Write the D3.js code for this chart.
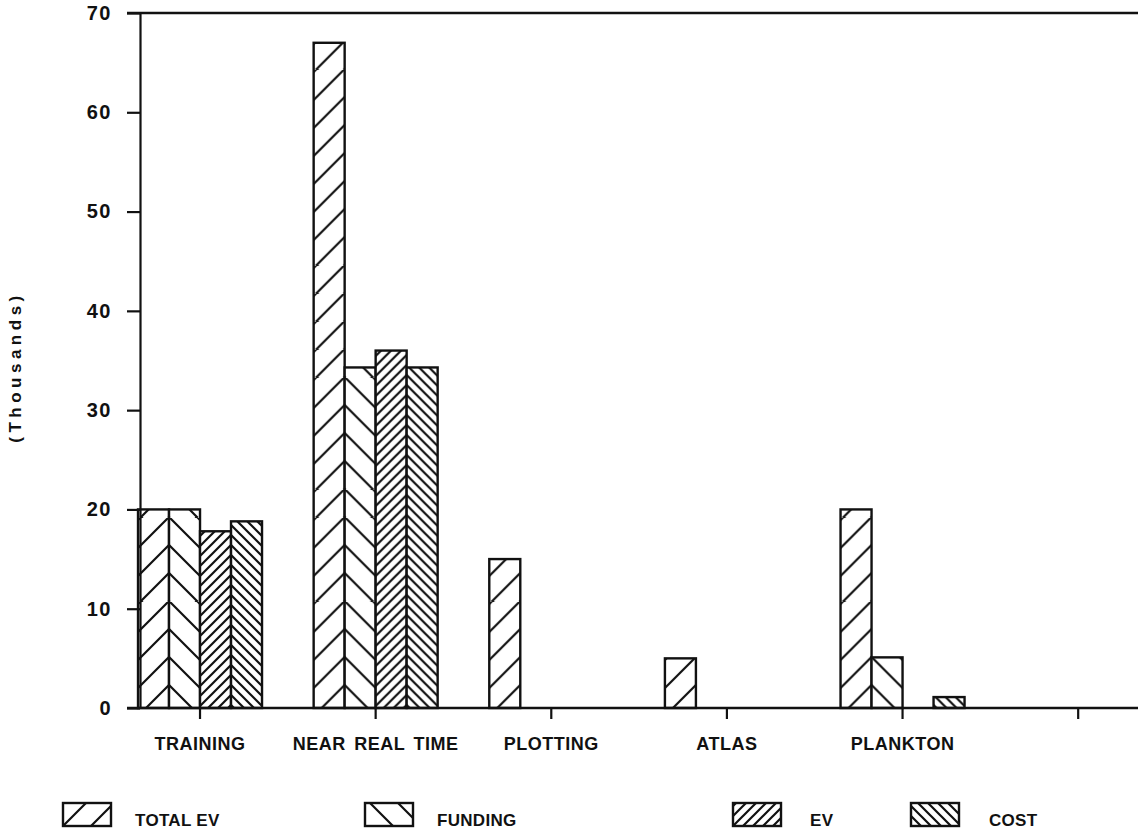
<!DOCTYPE html>
<html>
<head>
<meta charset="utf-8">
<script src="https://cdn.jsdelivr.net/npm/d3@7"></script>
<style>
body { margin: 0; background: #fff; }
text { font-family: "Liberation Sans", Arial, sans-serif; font-weight: bold; fill: #111; }
</style>
</head>
<body>
<script>
// Data (values in thousands)
var categories = ['TRAINING', 'NEAR REAL TIME', 'PLOTTING', 'ATLAS', 'PLANKTON', ''];
var seriesNames = ['TOTAL EV', 'FUNDING', 'EV', 'COST'];
var totalEv = [20, 67, 15, 5, 20, 0];
var funding = [20, 34.3, 0, 0, 5.1, 0];
var ev = [17.8, 36, 0, 0, 0, 0];
var cost = [18.8, 34.3, 0, 0, 1.1, 0];
var yTicks = [0, 10, 20, 30, 40, 50, 60, 70];

var seriesValues = [totalEv, funding, ev, cost];

// hatch style for each series: direction and spacing
var hatch = [
    {dir: '/', step: 28},
    {dir: '\\', step: 28},
    {dir: '/', step: 10},
    {dir: '\\', step: 10}
];

var W = 1138, H = 832;
var svg = d3.select('body').append('svg')
    .attr('width', W)
    .attr('height', H);
var defs = svg.append('defs');

var x = d3.scaleBand()
    .domain(categories)
    .range([112.2, 1166]);
var xs = d3.scaleBand()
    .domain(seriesNames)
    .range([-62, 62]);
var y = d3.scaleLinear()
    .domain([0, 70])
    .range([708, 13]);

function center(c) { return x(c) + x.bandwidth() / 2; }

// builds a hatch pattern anchored at (ox, oy)
function makePattern(id, h, ox, oy) {
    var p = h.step;
    var d = h.dir === '/'
        ? 'M0,' + p + 'L' + p + ',0M' + (-p / 2) + ',' + (p / 2) + 'L' + (p / 2) + ',' + (-p / 2) +
          'M' + (p / 2) + ',' + (1.5 * p) + 'L' + (1.5 * p) + ',' + (p / 2)
        : 'M0,0L' + p + ',' + p + 'M' + (-p / 2) + ',' + (p / 2) + 'L' + (p / 2) + ',' + (1.5 * p) +
          'M' + (p / 2) + ',' + (-p / 2) + 'L' + (1.5 * p) + ',' + (p / 2);
    var pat = defs.append('pattern')
        .attr('id', id)
        .attr('patternUnits', 'userSpaceOnUse')
        .attr('x', ox)
        .attr('y', oy)
        .attr('width', p)
        .attr('height', p);
    pat.append('rect').attr('width', p).attr('height', p).attr('fill', '#fff');
    pat.append('path').attr('d', d)
        .attr('stroke', '#111')
        .attr('stroke-width', 2.2)
        .attr('fill', 'none');
}

// flatten bars
var bars = [];
categories.forEach(function(c, i) {
    seriesNames.forEach(function(s, j) {
        var v = seriesValues[j][i];
        if (v > 0) bars.push({cat: c, series: s, si: j, ci: i, value: v});
    });
});

bars.forEach(function(b) {
    var anchorSeries = b.si < 2 ? seriesNames[1] : seriesNames[3];
    var ax = center(b.cat) + xs(anchorSeries);
    makePattern('pat-' + b.ci + '-' + b.si, hatch[b.si], ax, y(0) - 23);
});

svg.selectAll('.bar')
    .data(bars)
    .enter()
    .append('rect')
    .attr('class', 'bar')
    .attr('x', function(d) { return center(d.cat) + xs(d.series); })
    .attr('y', function(d) { return y(d.value); })
    .attr('width', xs.bandwidth())
    .attr('height', function(d) { return y(0) - y(d.value); })
    .attr('fill', function(d) { return 'url(#pat-' + d.ci + '-' + d.si + ')'; })
    .attr('stroke', '#111')
    .attr('stroke-width', 2.4);

// Axes
var yAxis = svg.append('g')
    .attr('transform', 'translate(140,0)')
    .call(d3.axisLeft(y).tickValues(yTicks).tickSize(13).tickSizeOuter(0).tickPadding(15));
yAxis.selectAll('path, line').attr('stroke', '#111').attr('stroke-width', 2.2);
yAxis.selectAll('text')
    .style('font-size', '20px')
    .style('letter-spacing', '1.5px')
    .attr('fill', '#111');

var xAxis = svg.append('g')
    .attr('transform', 'translate(0,' + y(0) + ')')
    .call(d3.axisBottom(x).tickSize(11).tickSizeOuter(0).tickPadding(18));
xAxis.select('.domain').remove();
xAxis.selectAll('line').attr('stroke', '#111').attr('stroke-width', 2.2);
xAxis.selectAll('text')
    .style('font-size', '18px')
    .style('letter-spacing', '0.5px')
    .style('word-spacing', '3px')
    .attr('fill', '#111');

// baseline and top border
svg.append('line')
    .attr('x1', 127).attr('x2', W)
    .attr('y1', y(0)).attr('y2', y(0))
    .attr('stroke', '#111').attr('stroke-width', 2.4);
svg.append('line')
    .attr('x1', 127).attr('x2', W)
    .attr('y1', y(70)).attr('y2', y(70))
    .attr('stroke', '#111').attr('stroke-width', 2.4);

// Axis title
svg.append('text')
    .attr('transform', 'translate(21,367) rotate(-90)')
    .attr('text-anchor', 'middle')
    .style('font-size', '17px')
    .style('letter-spacing', '4.5px')
    .text('(Thousands)');

// Legend
var legendSwatchX = [63, 365, 733, 911];
var legendTextX = [135, 437, 810, 989];
var legend = svg.selectAll('.legend')
    .data(seriesNames)
    .enter()
    .append('g')
    .attr('class', 'legend');

seriesNames.forEach(function(s, j) {
    makePattern('leg-' + j, hatch[j], legendSwatchX[j], 826);
});

legend.append('rect')
    .attr('x', function(d, j) { return legendSwatchX[j]; })
    .attr('y', 803)
    .attr('width', 48)
    .attr('height', 23)
    .attr('fill', function(d, j) { return 'url(#leg-' + j + ')'; })
    .attr('stroke', '#111')
    .attr('stroke-width', 2.4);

legend.append('text')
    .attr('x', function(d, j) { return legendTextX[j]; })
    .attr('y', 826)
    .style('font-size', '17px')
    .style('letter-spacing', '0.3px')
    .text(function(d) { return d; });
</script>
</body>
</html>
